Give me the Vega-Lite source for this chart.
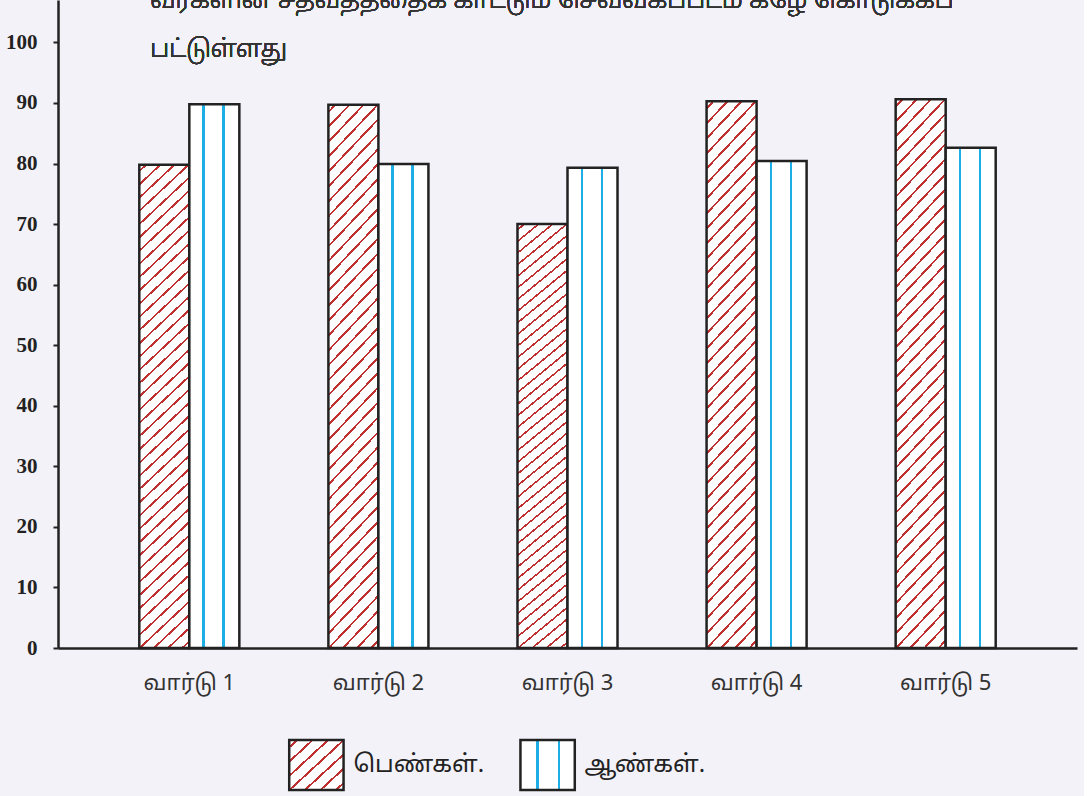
{
  "$schema": "https://vega.github.io/schema/vega-lite/v6.json",
  "background": "#f3f2f8",
  "padding": {"left": 5, "top": 0, "right": 7, "bottom": 6},
  "spacing": 45,
  "config": {
    "view": {"stroke": null},
    "font": "Noto Sans Tamil, Lohit Tamil, sans-serif"
  },
  "vconcat": [
    {
      "width": 1019,
      "height": 648,
      "data": {"values": [
        {"ward": "வார்டு 1", "g": "பெண்கள்.", "v": 79.8},
        {"ward": "வார்டு 1", "g": "ஆண்கள்.", "v": 89.8},
        {"ward": "வார்டு 2", "g": "பெண்கள்.", "v": 89.7},
        {"ward": "வார்டு 2", "g": "ஆண்கள்.", "v": 79.9},
        {"ward": "வார்டு 3", "g": "பெண்கள்.", "v": 70},
        {"ward": "வார்டு 3", "g": "ஆண்கள்.", "v": 79.3},
        {"ward": "வார்டு 4", "g": "பெண்கள்.", "v": 90.3},
        {"ward": "வார்டு 4", "g": "ஆண்கள்.", "v": 80.4},
        {"ward": "வார்டு 5", "g": "பெண்கள்.", "v": 90.6},
        {"ward": "வார்டு 5", "g": "ஆண்கள்.", "v": 82.6}
      ]},
      "encoding": {
        "x": {"field": "ward", "type": "nominal", "sort": null,
          "scale": {"paddingInner": 0.471, "paddingOuter": 0.43},
          "axis": {"title": null, "labelAngle": 0, "ticks": false, "labelPadding": 24, "labelFontSize": 22, "labelColor": "#333", "labelDx": -11, "domainColor": "#222", "domainWidth": 2.5}
        },
        "y": {"field": "v", "type": "quantitative",
          "scale": {"domain": [0, 107], "nice": false},
          "axis": {"title": null, "values": [0,10,20,30,40,50,60,70,80,90,100], "grid": false, "tickSize": 5, "tickWidth": 2, "tickColor": "#222", "domainColor": "#222", "domainWidth": 2.5, "labelFont": "Liberation Serif", "labelFontWeight": "bold", "labelFontSize": 21, "labelColor": "#222", "labelPadding": 16}
        }
      },
      "layer": [
        {
          "transform": [{"filter": "datum.g === 'பெண்கள்.'"}],
          "mark": {"type": "bar", "stroke": "#222", "strokeWidth": 2.5,
            "fill": {"gradient": "linear", "x1": 0, "y1": 0, "x2": 0.1055, "y2": 1.0869, "stops": [
              {"offset": 0, "color": "#fff"},
              {"offset": 0.010, "color": "#fff"}, {"offset": 0.010, "color": "#bf3030"}, {"offset": 0.0145, "color": "#bf3030"}, {"offset": 0.0145, "color": "#fff"},
              {"offset": 0.035, "color": "#fff"}, {"offset": 0.035, "color": "#bf3030"}, {"offset": 0.0395, "color": "#bf3030"}, {"offset": 0.0395, "color": "#fff"},
              {"offset": 0.060, "color": "#fff"}, {"offset": 0.060, "color": "#bf3030"}, {"offset": 0.0645, "color": "#bf3030"}, {"offset": 0.0645, "color": "#fff"},
              {"offset": 0.085, "color": "#fff"}, {"offset": 0.085, "color": "#bf3030"}, {"offset": 0.0895, "color": "#bf3030"}, {"offset": 0.0895, "color": "#fff"},
              {"offset": 0.110, "color": "#fff"}, {"offset": 0.110, "color": "#bf3030"}, {"offset": 0.1145, "color": "#bf3030"}, {"offset": 0.1145, "color": "#fff"},
              {"offset": 0.135, "color": "#fff"}, {"offset": 0.135, "color": "#bf3030"}, {"offset": 0.1395, "color": "#bf3030"}, {"offset": 0.1395, "color": "#fff"},
              {"offset": 0.160, "color": "#fff"}, {"offset": 0.160, "color": "#bf3030"}, {"offset": 0.1645, "color": "#bf3030"}, {"offset": 0.1645, "color": "#fff"},
              {"offset": 0.185, "color": "#fff"}, {"offset": 0.185, "color": "#bf3030"}, {"offset": 0.1895, "color": "#bf3030"}, {"offset": 0.1895, "color": "#fff"},
              {"offset": 0.210, "color": "#fff"}, {"offset": 0.210, "color": "#bf3030"}, {"offset": 0.2145, "color": "#bf3030"}, {"offset": 0.2145, "color": "#fff"},
              {"offset": 0.235, "color": "#fff"}, {"offset": 0.235, "color": "#bf3030"}, {"offset": 0.2395, "color": "#bf3030"}, {"offset": 0.2395, "color": "#fff"},
              {"offset": 0.260, "color": "#fff"}, {"offset": 0.260, "color": "#bf3030"}, {"offset": 0.2645, "color": "#bf3030"}, {"offset": 0.2645, "color": "#fff"},
              {"offset": 0.285, "color": "#fff"}, {"offset": 0.285, "color": "#bf3030"}, {"offset": 0.2895, "color": "#bf3030"}, {"offset": 0.2895, "color": "#fff"},
              {"offset": 0.310, "color": "#fff"}, {"offset": 0.310, "color": "#bf3030"}, {"offset": 0.3145, "color": "#bf3030"}, {"offset": 0.3145, "color": "#fff"},
              {"offset": 0.335, "color": "#fff"}, {"offset": 0.335, "color": "#bf3030"}, {"offset": 0.3395, "color": "#bf3030"}, {"offset": 0.3395, "color": "#fff"},
              {"offset": 0.360, "color": "#fff"}, {"offset": 0.360, "color": "#bf3030"}, {"offset": 0.3645, "color": "#bf3030"}, {"offset": 0.3645, "color": "#fff"},
              {"offset": 0.385, "color": "#fff"}, {"offset": 0.385, "color": "#bf3030"}, {"offset": 0.3895, "color": "#bf3030"}, {"offset": 0.3895, "color": "#fff"},
              {"offset": 0.410, "color": "#fff"}, {"offset": 0.410, "color": "#bf3030"}, {"offset": 0.4145, "color": "#bf3030"}, {"offset": 0.4145, "color": "#fff"},
              {"offset": 0.435, "color": "#fff"}, {"offset": 0.435, "color": "#bf3030"}, {"offset": 0.4395, "color": "#bf3030"}, {"offset": 0.4395, "color": "#fff"},
              {"offset": 0.460, "color": "#fff"}, {"offset": 0.460, "color": "#bf3030"}, {"offset": 0.4645, "color": "#bf3030"}, {"offset": 0.4645, "color": "#fff"},
              {"offset": 0.485, "color": "#fff"}, {"offset": 0.485, "color": "#bf3030"}, {"offset": 0.4895, "color": "#bf3030"}, {"offset": 0.4895, "color": "#fff"},
              {"offset": 0.510, "color": "#fff"}, {"offset": 0.510, "color": "#bf3030"}, {"offset": 0.5145, "color": "#bf3030"}, {"offset": 0.5145, "color": "#fff"},
              {"offset": 0.535, "color": "#fff"}, {"offset": 0.535, "color": "#bf3030"}, {"offset": 0.5395, "color": "#bf3030"}, {"offset": 0.5395, "color": "#fff"},
              {"offset": 0.560, "color": "#fff"}, {"offset": 0.560, "color": "#bf3030"}, {"offset": 0.5645, "color": "#bf3030"}, {"offset": 0.5645, "color": "#fff"},
              {"offset": 0.585, "color": "#fff"}, {"offset": 0.585, "color": "#bf3030"}, {"offset": 0.5895, "color": "#bf3030"}, {"offset": 0.5895, "color": "#fff"},
              {"offset": 0.610, "color": "#fff"}, {"offset": 0.610, "color": "#bf3030"}, {"offset": 0.6145, "color": "#bf3030"}, {"offset": 0.6145, "color": "#fff"},
              {"offset": 0.635, "color": "#fff"}, {"offset": 0.635, "color": "#bf3030"}, {"offset": 0.6395, "color": "#bf3030"}, {"offset": 0.6395, "color": "#fff"},
              {"offset": 0.660, "color": "#fff"}, {"offset": 0.660, "color": "#bf3030"}, {"offset": 0.6645, "color": "#bf3030"}, {"offset": 0.6645, "color": "#fff"},
              {"offset": 0.685, "color": "#fff"}, {"offset": 0.685, "color": "#bf3030"}, {"offset": 0.6895, "color": "#bf3030"}, {"offset": 0.6895, "color": "#fff"},
              {"offset": 0.710, "color": "#fff"}, {"offset": 0.710, "color": "#bf3030"}, {"offset": 0.7145, "color": "#bf3030"}, {"offset": 0.7145, "color": "#fff"},
              {"offset": 0.735, "color": "#fff"}, {"offset": 0.735, "color": "#bf3030"}, {"offset": 0.7395, "color": "#bf3030"}, {"offset": 0.7395, "color": "#fff"},
              {"offset": 0.760, "color": "#fff"}, {"offset": 0.760, "color": "#bf3030"}, {"offset": 0.7645, "color": "#bf3030"}, {"offset": 0.7645, "color": "#fff"},
              {"offset": 0.785, "color": "#fff"}, {"offset": 0.785, "color": "#bf3030"}, {"offset": 0.7895, "color": "#bf3030"}, {"offset": 0.7895, "color": "#fff"},
              {"offset": 0.810, "color": "#fff"}, {"offset": 0.810, "color": "#bf3030"}, {"offset": 0.8145, "color": "#bf3030"}, {"offset": 0.8145, "color": "#fff"},
              {"offset": 0.835, "color": "#fff"}, {"offset": 0.835, "color": "#bf3030"}, {"offset": 0.8395, "color": "#bf3030"}, {"offset": 0.8395, "color": "#fff"},
              {"offset": 0.860, "color": "#fff"}, {"offset": 0.860, "color": "#bf3030"}, {"offset": 0.8645, "color": "#bf3030"}, {"offset": 0.8645, "color": "#fff"},
              {"offset": 0.885, "color": "#fff"}, {"offset": 0.885, "color": "#bf3030"}, {"offset": 0.8895, "color": "#bf3030"}, {"offset": 0.8895, "color": "#fff"},
              {"offset": 0.910, "color": "#fff"}, {"offset": 0.910, "color": "#bf3030"}, {"offset": 0.9145, "color": "#bf3030"}, {"offset": 0.9145, "color": "#fff"},
              {"offset": 0.935, "color": "#fff"}, {"offset": 0.935, "color": "#bf3030"}, {"offset": 0.9395, "color": "#bf3030"}, {"offset": 0.9395, "color": "#fff"},
              {"offset": 0.960, "color": "#fff"}, {"offset": 0.960, "color": "#bf3030"}, {"offset": 0.9645, "color": "#bf3030"}, {"offset": 0.9645, "color": "#fff"},
              {"offset": 0.985, "color": "#fff"}, {"offset": 0.985, "color": "#bf3030"}, {"offset": 0.9895, "color": "#bf3030"}, {"offset": 0.9895, "color": "#fff"},
              {"offset": 1, "color": "#fff"}
            ]}
          },
          "encoding": {
            "xOffset": {"field": "g", "type": "nominal", "scale": {"domain": ["பெண்கள்.", "ஆண்கள்."], "paddingInner": 0, "paddingOuter": 0}}
          }
        },
        {
          "transform": [{"filter": "datum.g === 'ஆண்கள்.'"}],
          "mark": {"type": "bar", "stroke": "#222", "strokeWidth": 2.5,
            "fill": {"gradient": "linear", "x1": 0, "y1": 0, "x2": 1, "y2": 0, "stops": [
              {"offset": 0, "color": "#fff"},
              {"offset": 0.26, "color": "#fff"}, {"offset": 0.26, "color": "#1eaee6"}, {"offset": 0.305, "color": "#1eaee6"}, {"offset": 0.305, "color": "#fff"},
              {"offset": 0.66, "color": "#fff"}, {"offset": 0.66, "color": "#1eaee6"}, {"offset": 0.705, "color": "#1eaee6"}, {"offset": 0.705, "color": "#fff"},
              {"offset": 1, "color": "#fff"}
            ]}
          },
          "encoding": {
            "xOffset": {"field": "g", "type": "nominal", "scale": {"domain": ["பெண்கள்.", "ஆண்கள்."], "paddingInner": 0, "paddingOuter": 0}}
          }
        },
        {
          "mark": {"type": "text", "align": "left", "baseline": "alphabetic", "dx": -39, "fontSize": 25, "fontWeight": 300, "lineHeight": 49, "color": "#333", "clip": true},
          "encoding": {
            "x": {"datum": "வார்டு 1"},
            "y": {"datum": 105.7},
            "text": {"value": ["வர்களின் சதவீதத்தைக் காட்டும் செவ்வகப்படம் கீழே கொடுக்கப்", "பட்டுள்ளது"]}
          }
        }
      ]
    },
    {
      "width": 748,
      "height": 50,
      "data": {"values": [{"g": "பெண்கள்."}, {"g": "ஆண்கள்."}]},
      "encoding": {
        "x": {"field": "g", "type": "nominal", "sort": null, "axis": null,
          "scale": {"paddingInner": 0.765, "paddingOuter": 1.075}}
      },
      "layer": [
        {
          "transform": [{"filter": "datum.g === 'பெண்கள்.'"}],
          "mark": {"type": "rect", "stroke": "#222", "strokeWidth": 2.5,
            "fill": {"gradient": "linear", "x1": 0, "y1": 0, "x2": 1, "y2": 1, "stops": [
              {"offset": 0, "color": "#fff"},
              {"offset": 0.06, "color": "#fff"}, {"offset": 0.06, "color": "#bf3030"}, {"offset": 0.086, "color": "#bf3030"}, {"offset": 0.086, "color": "#fff"},
              {"offset": 0.203, "color": "#fff"}, {"offset": 0.203, "color": "#bf3030"}, {"offset": 0.229, "color": "#bf3030"}, {"offset": 0.229, "color": "#fff"},
              {"offset": 0.346, "color": "#fff"}, {"offset": 0.346, "color": "#bf3030"}, {"offset": 0.372, "color": "#bf3030"}, {"offset": 0.372, "color": "#fff"},
              {"offset": 0.489, "color": "#fff"}, {"offset": 0.489, "color": "#bf3030"}, {"offset": 0.515, "color": "#bf3030"}, {"offset": 0.515, "color": "#fff"},
              {"offset": 0.631, "color": "#fff"}, {"offset": 0.631, "color": "#bf3030"}, {"offset": 0.657, "color": "#bf3030"}, {"offset": 0.657, "color": "#fff"},
              {"offset": 0.774, "color": "#fff"}, {"offset": 0.774, "color": "#bf3030"}, {"offset": 0.800, "color": "#bf3030"}, {"offset": 0.800, "color": "#fff"},
              {"offset": 0.917, "color": "#fff"}, {"offset": 0.917, "color": "#bf3030"}, {"offset": 0.943, "color": "#bf3030"}, {"offset": 0.943, "color": "#fff"},
              {"offset": 1, "color": "#fff"}
            ]}
          }
        },
        {
          "transform": [{"filter": "datum.g === 'ஆண்கள்.'"}],
          "mark": {"type": "rect", "stroke": "#222", "strokeWidth": 2.5,
            "fill": {"gradient": "linear", "x1": 0, "y1": 0, "x2": 1, "y2": 0, "stops": [
              {"offset": 0, "color": "#fff"},
              {"offset": 0.295, "color": "#fff"}, {"offset": 0.295, "color": "#1eaee6"}, {"offset": 0.34, "color": "#1eaee6"}, {"offset": 0.34, "color": "#fff"},
              {"offset": 0.685, "color": "#fff"}, {"offset": 0.685, "color": "#1eaee6"}, {"offset": 0.73, "color": "#1eaee6"}, {"offset": 0.73, "color": "#fff"},
              {"offset": 1, "color": "#fff"}
            ]}
          }
        },
        {
          "mark": {"type": "text", "align": "left", "baseline": "middle", "dx": 37, "fontSize": 24, "color": "#222"},
          "encoding": {"text": {"field": "g"}}
        }
      ]
    }
  ]
}
